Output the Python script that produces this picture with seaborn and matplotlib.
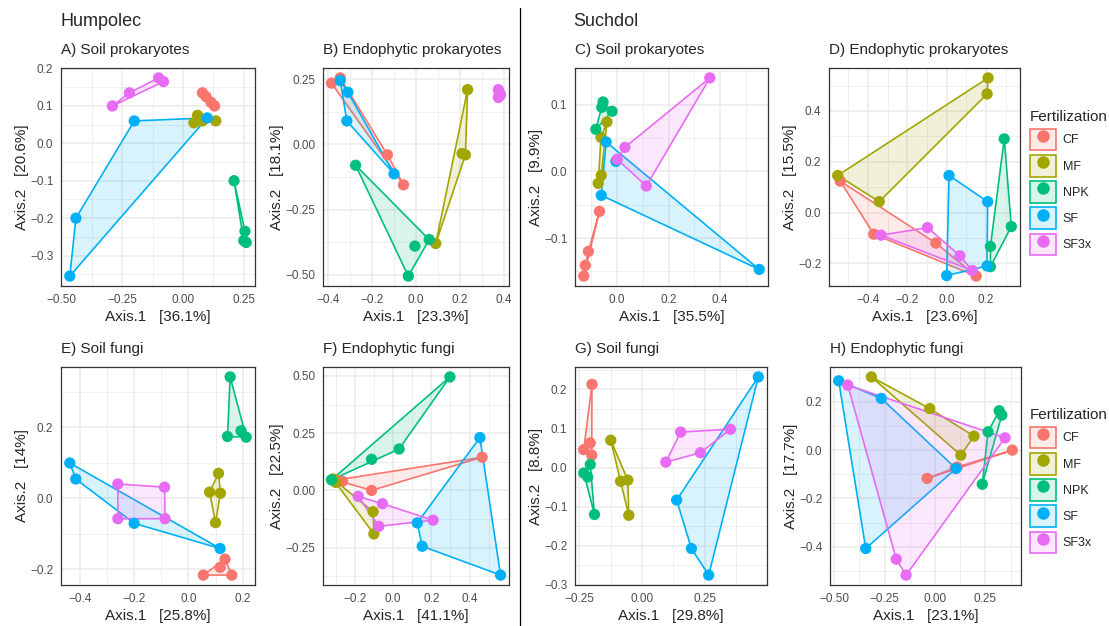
import numpy as np
import pandas as pd
import matplotlib
matplotlib.use("Agg")
import matplotlib.pyplot as plt
import seaborn as sns
from matplotlib.patches import Patch
from matplotlib.lines import Line2D
from matplotlib.legend_handler import HandlerTuple
from matplotlib.colors import to_rgba

groups = ['CF', 'MF', 'NPK', 'SF', 'SF3x']
colors = ['#F8766D', '#A3A500', '#00BF7D', '#00B0F6', '#E76BF3']

# A) Humpolec - soil prokaryotes
A_CF = [(0.08, 0.135), (0.095, 0.125), (0.115, 0.11), (0.13, 0.10)]
A_MF = [(0.06, 0.075), (0.045, 0.055), (0.08, 0.06), (0.135, 0.06)]
A_NPK = [(0.21, -0.10), (0.255, -0.235), (0.26, -0.265), (0.25, -0.26)]
A_SF = [(-0.20, 0.06), (-0.44, -0.20), (-0.465, -0.355), (0.10, 0.068)]
A_SF3x = [(-0.29, 0.10), (-0.22, 0.135), (-0.10, 0.175), (-0.08, 0.165)]

# B) Humpolec - endophytic prokaryotes
B_CF = [(-0.385, 0.235), (-0.345, 0.255), (-0.13, -0.04), (-0.057, -0.155)]
B_MF = [(0.235, 0.21), (0.21, -0.035), (0.225, -0.04), (0.09, -0.38)]
B_NPK = [(-0.275, -0.08), (-0.005, -0.39), (-0.035, -0.505), (0.06, -0.365)]
B_SF = [(-0.345, 0.245), (-0.31, 0.20), (-0.315, 0.09), (-0.10, -0.113)]
B_SF3x = [(0.375, 0.21), (0.385, 0.19), (0.375, 0.18), (0.38, 0.20)]

# C) Suchdol - soil prokaryotes
C_CF = [(-0.069, -0.06), (-0.112, -0.12), (-0.124, -0.141), (-0.13, -0.157)]
C_MF = [(-0.04, 0.074), (-0.063, 0.051), (-0.062, -0.006), (-0.074, -0.018)]
C_NPK = [(-0.055, 0.104), (-0.06, 0.096), (-0.02, 0.09), (-0.083, 0.063)]
C_SF = [(-0.043, 0.044), (-0.062, -0.036), (0.552, -0.147), (-0.005, 0.015)]
C_SF3x = [(0.36, 0.14), (0.03, 0.036), (0.0, 0.018), (0.113, -0.022)]

# D) Suchdol - endophytic prokaryotes
D_CF = [(-0.54, 0.124), (-0.37, -0.085), (-0.055, -0.12), (0.15, -0.25)]
D_MF = [(0.21, 0.53), (0.205, 0.467), (-0.553, 0.146), (-0.342, 0.043)]
D_NPK = [(0.292, 0.29), (0.328, -0.055), (0.222, -0.133), (0.222, -0.213)]
D_SF = [(0.012, 0.146), (0.208, 0.043), (0.0, -0.248), (0.205, -0.21)]
D_SF3x = [(-0.333, -0.089), (-0.097, -0.059), (0.067, -0.17), (0.13, -0.228)]

# E) Humpolec - soil fungi
E_CF = [(0.135, -0.172), (0.117, -0.195), (0.055, -0.217), (0.16, -0.217)]
E_MF = [(0.111, 0.07), (0.078, 0.017), (0.118, 0.014), (0.10, -0.069)]
E_NPK = [(0.154, 0.342), (0.144, 0.174), (0.194, 0.19), (0.213, 0.172)]
E_SF = [(-0.437, 0.099), (-0.415, 0.054), (-0.20, -0.071), (0.117, -0.142)]
E_SF3x = [(-0.26, 0.04), (-0.088, 0.031), (-0.26, -0.058), (-0.086, -0.058)]

# F) Humpolec - endophytic fungi
F_CF = [(0.466, 0.145), (-0.265, 0.04), (-0.113, 0.0), (-0.30, 0.045)]
F_MF = [(-0.105, -0.093), (-0.101, -0.19), (-0.315, 0.05), (-0.30, 0.035)]
F_NPK = [(0.297, 0.496), (0.031, 0.181), (-0.113, 0.136), (-0.323, 0.046)]
F_SF = [(0.454, 0.231), (0.126, -0.142), (0.152, -0.244), (0.562, -0.37)]
F_SF3x = [(-0.183, -0.026), (-0.056, -0.058), (0.209, -0.13), (-0.075, -0.157)]

# G) Suchdol - soil fungi
G_CF = [(-0.20, 0.213), (-0.207, 0.063), (-0.233, 0.046), (-0.201, 0.032)]
G_MF = [(-0.125, 0.07), (-0.086, -0.035), (-0.057, -0.032), (-0.053, -0.122)]
G_NPK = [(-0.207, 0.008), (-0.233, -0.014), (-0.217, -0.024), (-0.19, -0.12)]
G_SF = [(0.464, 0.232), (0.138, -0.083), (0.197, -0.207), (0.266, -0.275)]
G_SF3x = [(0.154, 0.091), (0.353, 0.098), (0.233, 0.038), (0.095, 0.014)]

# H) Suchdol - endophytic fungi
H_CF = [(0.383, 0.0), (-0.039, -0.117), (0.10, -0.075), (0.11, -0.07)]
H_MF = [(-0.315, 0.303), (-0.026, 0.172), (0.193, 0.058), (0.128, -0.021)]
H_NPK = [(0.318, 0.163), (0.331, 0.145), (0.263, 0.076), (0.234, -0.141)]
H_SF = [(-0.477, 0.287), (-0.266, 0.214), (0.104, -0.076), (-0.343, -0.407)]
H_SF3x = [(-0.432, 0.269), (0.347, 0.051), (-0.192, -0.451), (-0.143, -0.517)]

titles = ['A) Soil prokaryotes', 'B) Endophytic prokaryotes', 'C) Soil prokaryotes',
          'D) Endophytic prokaryotes', 'E) Soil fungi', 'F) Endophytic fungi',
          'G) Soil fungi', 'H) Endophytic fungi']
axis1_pct = ['36.1', '23.3', '35.5', '23.6', '25.8', '41.1', '29.8', '23.1']
axis2_pct = ['20.6', '18.1', '9.9', '15.5', '14', '22.5', '8.8', '17.7']

xticks = [[-0.5, -0.25, 0.0, 0.25], [-0.4, -0.2, 0.0, 0.2, 0.4], [0.0, 0.2, 0.4],
          [-0.4, -0.2, 0.0, 0.2], [-0.4, -0.2, 0.0, 0.2], [-0.2, 0.0, 0.2, 0.4],
          [-0.25, 0.0, 0.25, 0.5], [-0.5, -0.25, 0.0, 0.25]]
xticklabels = [['-0.50', '-0.25', '0.00', '0.25'], ['-0.4', '-0.2', '0.0', '0.2', '0.4'],
               ['0.0', '0.2', '0.4'], ['-0.4', '-0.2', '0.0', '0.2'], ['-0.4', '-0.2', '0.0', '0.2'],
               ['-0.2', '0.0', '0.2', '0.4'], ['-0.25', '0.00', '0.25', '0.5'],
               ['-0.50', '-0.25', '0.00', '0.25']]
yticks = [[-0.3, -0.2, -0.1, 0.0, 0.1, 0.2], [-0.5, -0.25, 0.0, 0.25], [-0.1, 0.0, 0.1],
          [-0.2, 0.0, 0.2, 0.4], [-0.2, 0.0, 0.2], [-0.25, 0.0, 0.25, 0.5],
          [-0.3, -0.2, -0.1, 0.0, 0.1, 0.2], [-0.4, -0.2, 0.0, 0.2]]
yticklabels = [['-0.3', '-0.2', '-0.1', '0.0', '0.1', '0.2'], ['-0.50', '-0.25', '0.00', '0.25'],
               ['-0.1', '0.0', '0.1'], ['-0.2', '0.0', '0.2', '0.4'], ['-0.2', '0.0', '0.2'],
               ['-0.25', '0.00', '0.25', '0.50'], ['-0.3', '-0.2', '-0.1', '0.0', '0.1', '0.2'],
               ['-0.4', '-0.2', '0.0', '0.2']]

panel_points = [
    [A_CF, A_MF, A_NPK, A_SF, A_SF3x], [B_CF, B_MF, B_NPK, B_SF, B_SF3x],
    [C_CF, C_MF, C_NPK, C_SF, C_SF3x], [D_CF, D_MF, D_NPK, D_SF, D_SF3x],
    [E_CF, E_MF, E_NPK, E_SF, E_SF3x], [F_CF, F_MF, F_NPK, F_SF, F_SF3x],
    [G_CF, G_MF, G_NPK, G_SF, G_SF3x], [H_CF, H_MF, H_NPK, H_SF, H_SF3x],
]


def convex_hull(pts):
    pts = sorted(set(pts))
    if len(pts) < 3:
        return pts

    def cross(o, a, b):
        return (a[0] - o[0]) * (b[1] - o[1]) - (a[1] - o[1]) * (b[0] - o[0])

    lower, upper = [], []
    for p in pts:
        while len(lower) >= 2 and cross(lower[-2], lower[-1], p) <= 0:
            lower.pop()
        lower.append(p)
    for p in reversed(pts):
        while len(upper) >= 2 and cross(upper[-2], upper[-1], p) <= 0:
            upper.pop()
        upper.append(p)
    return lower[:-1] + upper[:-1]


def minus(s):
    return s.replace('-', '\u2212')


sns.set_style('white')
plt.rcParams['font.family'] = ['Liberation Sans', 'DejaVu Sans']

W, H = 1109, 626
fig = plt.figure(figsize=(W / 100, H / 100), dpi=100)

# panel frames in pixels: left, top, right, bottom
boxes = [(61, 68, 255, 286), (323, 68, 509, 286), (575, 68, 768, 286), (829, 68, 1020, 286),
         (61, 367, 255, 585), (323, 367, 509, 585), (575, 367, 767, 585), (830, 367, 1021, 585)]

grid_c = '#EBEBEB'
dark = '#333333'

for i in range(8):
    l, t, r, b = boxes[i]
    ax = fig.add_axes([l / W, 1 - b / H, (r - l) / W, (b - t) / H])

    rows = []
    for g, pts in zip(groups, panel_points[i]):
        for x, y in pts:
            rows.append({'Axis.1': x, 'Axis.2': y, 'Fertilization': g})
    df = pd.DataFrame(rows)

    # convex hulls per fertilization group
    for g, c in zip(groups, colors):
        sub = df[df['Fertilization'] == g]
        hull = convex_hull(list(zip(sub['Axis.1'], sub['Axis.2'])))
        hx = [p[0] for p in hull]
        hy = [p[1] for p in hull]
        ax.fill(hx, hy, facecolor=to_rgba(c, 0.15), edgecolor=c, linewidth=1.2, zorder=2)

    sns.scatterplot(data=df, x='Axis.1', y='Axis.2', hue='Fertilization', hue_order=groups,
                    palette=colors, s=66, linewidth=0, legend=False, ax=ax, zorder=3)

    ax.set_xticks(xticks[i])
    ax.set_xticklabels([minus(s) for s in xticklabels[i]])
    ax.set_yticks(yticks[i])
    ax.set_yticklabels([minus(s) for s in yticklabels[i]])
    xs = xticks[i][1] - xticks[i][0]
    ys = yticks[i][1] - yticks[i][0]
    ax.set_xticks(np.arange(xticks[i][0] - xs / 2, xticks[i][-1] + xs, xs), minor=True)
    ax.set_yticks(np.arange(yticks[i][0] - ys / 2, yticks[i][-1] + ys, ys), minor=True)
    ax.margins(0.05)
    ax.autoscale_view()

    ax.grid(which='major', color=grid_c, linewidth=1.1)
    ax.grid(which='minor', color=grid_c, linewidth=0.55)
    ax.set_axisbelow(True)
    ax.tick_params(which='major', length=3.5, width=0.8, color=dark, labelsize=8.5,
                   labelcolor='#4D4D4D', pad=2)
    ax.tick_params(which='minor', length=0)
    for sp in ax.spines.values():
        sp.set_color(dark)
        sp.set_linewidth(0.9)

    ax.set_xlabel('Axis.1   [' + axis1_pct[i] + '%]', fontsize=11, labelpad=3)
    ax.set_ylabel('Axis.2   [' + axis2_pct[i] + '%]', fontsize=11, labelpad=1)
    ax.set_title(titles[i], loc='left', fontsize=11, pad=10)

fig.text(61 / W, 1 - 22 / H, 'Humpolec', fontsize=13, va='center', ha='left')
fig.text(573 / W, 1 - 22 / H, 'Suchdol', fontsize=13, va='center', ha='left')
fig.add_artist(Line2D([520 / W, 520 / W], [0, 1 - 8 / H], color='black', linewidth=0.9))

handles = [(Patch(facecolor=to_rgba(c, 0.15), edgecolor=c, linewidth=1.2),
            Line2D([], [], marker='o', color=c, linestyle='', markersize=8))
           for c in colors]
for top in (110, 408):
    fig.legend(handles, groups, title='Fertilization', loc='upper left',
               bbox_to_anchor=(1030 / W, 1 - top / H), frameon=False, fontsize=9,
               title_fontsize=11, handlelength=2.1, handleheight=2.3, handletextpad=0.5,
               labelspacing=0.36, borderpad=0, borderaxespad=0, alignment='left',
               handler_map={tuple: HandlerTuple(ndivide=1, pad=0)})

fig.savefig('out.png', dpi=100)
